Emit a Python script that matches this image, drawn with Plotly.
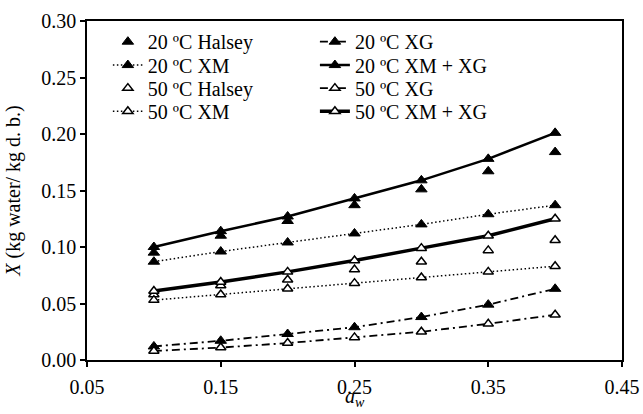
import plotly.graph_objects as go

aw = [0.10, 0.15, 0.20, 0.25, 0.30, 0.35, 0.40]

halsey_20 = [0.095, 0.110, 0.123, 0.137, 0.151, 0.167, 0.184]
xm_20 = [0.087, 0.096, 0.104, 0.112, 0.120, 0.129, 0.137]
xg_20 = [0.012, 0.017, 0.023, 0.029, 0.038, 0.049, 0.063]
xmxg_20 = [0.100, 0.114, 0.127, 0.143, 0.159, 0.178, 0.201]

halsey_50 = [0.058, 0.066, 0.071, 0.080, 0.087, 0.097, 0.106]
xm_50 = [0.053, 0.058, 0.063, 0.068, 0.073, 0.078, 0.083]
xg_50 = [0.008, 0.011, 0.015, 0.020, 0.025, 0.032, 0.040]
xmxg_50 = [0.061, 0.069, 0.078, 0.088, 0.099, 0.110, 0.125]

x_ticks = [0.05, 0.15, 0.25, 0.35, 0.45]
y_ticks = [0.00, 0.05, 0.10, 0.15, 0.20, 0.25, 0.30]
x_title = "<i>a</i><sub><i>w</i></sub>"
y_title = "<i>X</i> (kg water/ kg d. b.)"

FONT = "Liberation Serif"
filled = dict(symbol="triangle-up", size=10, color="black", line=dict(color="black", width=1))
hollow = dict(symbol="triangle-up", size=9, color="white", line=dict(color="black", width=1.5))

dashdot = "8px,4px,2px,4px"
dotted = "1.5px,2.5px"

# legend slots: (column x, row y) in plot-area fractions
col_x = [0.039, 0.426]
row_y = [0.939, 0.870, 0.802, 0.734]

fig = go.Figure()
legend_layout = {}

def add(idx, name, y, mode, marker, col, row, line=None):
    key = "legend" if idx == 1 else f"legend{idx}"
    kw = dict(x=aw, y=y, name=name, mode=mode, marker=marker, legend=key)
    if line:
        kw["line"] = line
    fig.add_trace(go.Scatter(**kw))
    legend_layout[key] = dict(
        x=col_x[col], y=row_y[row], xanchor="left", yanchor="middle",
        bgcolor="rgba(0,0,0,0)", borderwidth=0,
        font=dict(family=FONT, size=20, color="black"),
        itemsizing="trace",
    )

add(1, "20 ºC Halsey", halsey_20, "markers", filled, 0, 0)
add(2, "20 ºC XM", xm_20, "lines+markers", filled, 0, 1, dict(color="black", width=1.5, dash=dotted))
add(3, "50 ºC Halsey", halsey_50, "markers", hollow, 0, 2)
add(4, "50 ºC XM", xm_50, "lines+markers", hollow, 0, 3, dict(color="black", width=1.5, dash=dotted))
add(5, "20 ºC XG", xg_20, "lines+markers", filled, 1, 0, dict(color="black", width=1.8, dash=dashdot))
add(6, "20 ºC XM + XG", xmxg_20, "lines+markers", filled, 1, 1, dict(color="black", width=2.5))
add(7, "50 ºC XG", xg_50, "lines+markers", hollow, 1, 2, dict(color="black", width=1.8, dash=dashdot))
add(8, "50 ºC XM + XG", xmxg_50, "lines+markers", hollow, 1, 3, dict(color="black", width=3.5))

axis_common = dict(
    showgrid=False, zeroline=False, showline=True, linecolor="black", linewidth=1.5,
    mirror=True, ticks="outside", ticklen=5, tickwidth=1.5, tickcolor="black",
    tickfont=dict(family=FONT, size=20, color="black"), tickformat=".2f",
    automargin=False,
)

fig.update_layout(
    width=643, height=414,
    margin=dict(l=87, r=21, t=21, b=54),
    paper_bgcolor="white", plot_bgcolor="white",
    font=dict(family=FONT, size=20, color="black"),
    showlegend=True,
    xaxis=dict(axis_common, range=[0.05, 0.45], tickvals=x_ticks, ticklabelstandoff=3),
    yaxis=dict(axis_common, range=[0, 0.30], tickvals=y_ticks,
               title=dict(text=y_title, font=dict(family=FONT, size=20, color="black"))),
    annotations=[dict(
        text=x_title, xref="paper", yref="paper", x=0.5, y=-0.153,
        xanchor="center", yanchor="bottom", showarrow=False,
        font=dict(family=FONT, size=20, color="black"),
    )],
    **legend_layout,
)

fig.write_html("out.html")
